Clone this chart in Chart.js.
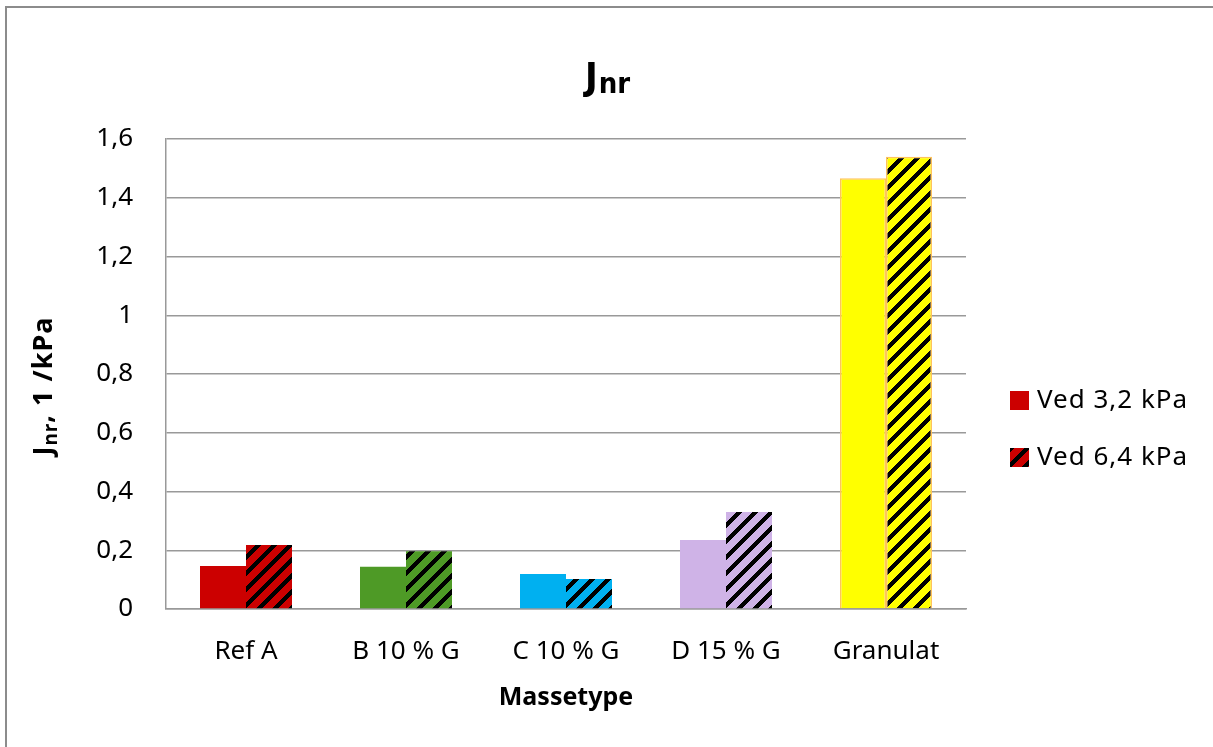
<!DOCTYPE html>
<html>
<head>
<meta charset="utf-8">
<script src="https://cdn.jsdelivr.net/npm/chart.js@4.4.0/dist/chart.umd.min.js"></script>
<style>
  html, body { margin: 0; padding: 0; background: #fff; }
  #wrap { width: 1213px; height: 747px; position: relative; }
</style>
</head>
<body>
<div id="wrap"><canvas id="myChart" width="1213" height="747"></canvas></div>
<script>
var categories = ["Ref A", "B 10 % G", "C 10 % G", "D 15 % G", "Granulat"];
var ved32 = [0.146, 0.144, 0.119, 0.235, 1.466];
var ved64 = [0.218, 0.197, 0.102, 0.330, 1.540];
var seriesNames = ["Ved 3,2 kPa", "Ved 6,4 kPa"];
var barColors = ["#CC0000", "#4E9A26", "#00B0F0", "#CFB3E7", "#FFFF00"];
var yTickLabels = ["0", "0,2", "0,4", "0,6", "0,8", "1", "1,2", "1,4", "1,6"];

var FONT = "'Noto Sans', 'DejaVu Sans', sans-serif";

// diagonal black stripes over a colour, like the excel pattern fill
function hatch(color) {
  var c = document.createElement("canvas");
  c.width = 16; c.height = 16;
  var g = c.getContext("2d");
  g.fillStyle = color;
  g.fillRect(0, 0, 16, 16);
  g.fillStyle = "#000";
  for (var y = 0; y < 16; y++) {
    for (var x = 0; x < 16; x++) {
      if ((x + y) % 16 < 6) g.fillRect(x, y, 1, 1);
    }
  }
  return g.createPattern(c, "repeat");
}

var hatched = barColors.map(hatch);
var borders = ["rgba(0,0,0,0)", "rgba(0,0,0,0)", "rgba(0,0,0,0)", "rgba(0,0,0,0)", "#FFC35C"];
var borderW = [0, 0, 0, 0, 1.5];

var extras = {
  id: "extras",
  beforeDraw: function(chart) {
    var ctx = chart.ctx;
    ctx.save();
    ctx.strokeStyle = "#8c8c8c";
    ctx.lineWidth = 2;
    ctx.strokeRect(6, 7, 1400, 900);
    ctx.restore();
  },
  afterDraw: function(chart) {
    var ctx = chart.ctx;
    ctx.save();
    ctx.fillStyle = "#000";
    ctx.textBaseline = "alphabetic";

    // title J_nr
    var tf = "bold 38px 'Liberation Sans Narrow', 'DejaVu Sans Condensed', sans-serif";
    var sf = "bold 29px 'Liberation Sans Narrow', 'DejaVu Sans Condensed', sans-serif";
    ctx.font = tf;
    var wJ = ctx.measureText("J").width;
    ctx.font = sf;
    var wN = ctx.measureText("nr").width;
    var x0 = 607 - (wJ + wN) / 2;
    ctx.font = tf;
    ctx.fillText("J", x0, 89);
    ctx.font = sf;
    ctx.fillText("nr", x0 + wJ + 1, 93);

    // y axis title, rotated
    ctx.translate(42, 386);
    ctx.rotate(-Math.PI / 2);
    ctx.letterSpacing = "1px";
    var f1 = "bold 27px " + FONT, f2 = "bold 19px " + FONT;
    ctx.font = f1;
    var a = ctx.measureText("J").width, c = ctx.measureText(", 1 /kPa").width;
    ctx.font = f2;
    var b = ctx.measureText("nr").width;
    var sx = -(a + b + c) / 2;
    ctx.font = f1;
    ctx.fillText("J", sx, 10);
    ctx.font = f2;
    ctx.fillText("nr", sx + a, 15);
    ctx.font = f1;
    ctx.fillText(", 1 /kPa", sx + a + b, 10);
    ctx.setTransform(1, 0, 0, 1, 0, 0);
    ctx.letterSpacing = "0px";

    // x axis title
    ctx.font = "bold 25px " + FONT;
    ctx.textAlign = "center";
    ctx.textBaseline = "middle";
    ctx.fillText("Massetype", 566, 698);

    // legend
    ctx.textAlign = "left";
    ctx.font = "26px " + FONT;
    ctx.letterSpacing = "1px";
    var fills = [barColors[0], hatched[0]];
    var ys = [400, 457];
    for (var i = 0; i < seriesNames.length; i++) {
      ctx.fillStyle = fills[i];
      ctx.fillRect(1010, ys[i] - 9, 19, 19);
      ctx.fillStyle = "#000";
      ctx.fillText(seriesNames[i], 1037, ys[i] + 1);
    }
    ctx.restore();
  }
};

var ctx = document.getElementById("myChart");
var myBarChart = new Chart(ctx, {
  type: "bar",
  data: {
    labels: categories,
    datasets: [
      {
        label: seriesNames[0],
        data: ved32,
        backgroundColor: barColors,
        borderColor: borders,
        borderWidth: borderW,
        categoryPercentage: 0.575,
        barPercentage: 1
      },
      {
        label: seriesNames[1],
        data: ved64,
        backgroundColor: hatched,
        borderColor: borders,
        borderWidth: borderW,
        categoryPercentage: 0.575,
        barPercentage: 1
      }
    ]
  },
  options: {
    responsive: false,
    animation: false,
    layout: { padding: { top: 139, right: 247, left: 0, bottom: 0 } },
    plugins: {
      legend: { display: false },
      title: { display: false },
      tooltip: { enabled: false }
    },
    scales: {
      x: {
        grid: { display: false, drawTicks: false },
        border: { display: true, color: "#999", width: 1.5 },
        ticks: { color: "#000", font: { family: FONT, size: 26 }, padding: 27, maxRotation: 0 },
        afterFit: function(scale) { scale.height = 138; }
      },
      y: {
        min: 0,
        max: 1.6,
        grid: { color: "#999", lineWidth: 1.5, drawTicks: false },
        border: { display: true, color: "#999", width: 1.5 },
        ticks: {
          stepSize: 0.2,
          color: "#000",
          padding: 33,
          font: { family: FONT, size: 26 },
          callback: function(v, i) { return yTickLabels[i]; }
        },
        afterFit: function(scale) { scale.width = 166; }
      }
    }
  },
  plugins: [extras]
});
</script>
</body>
</html>
